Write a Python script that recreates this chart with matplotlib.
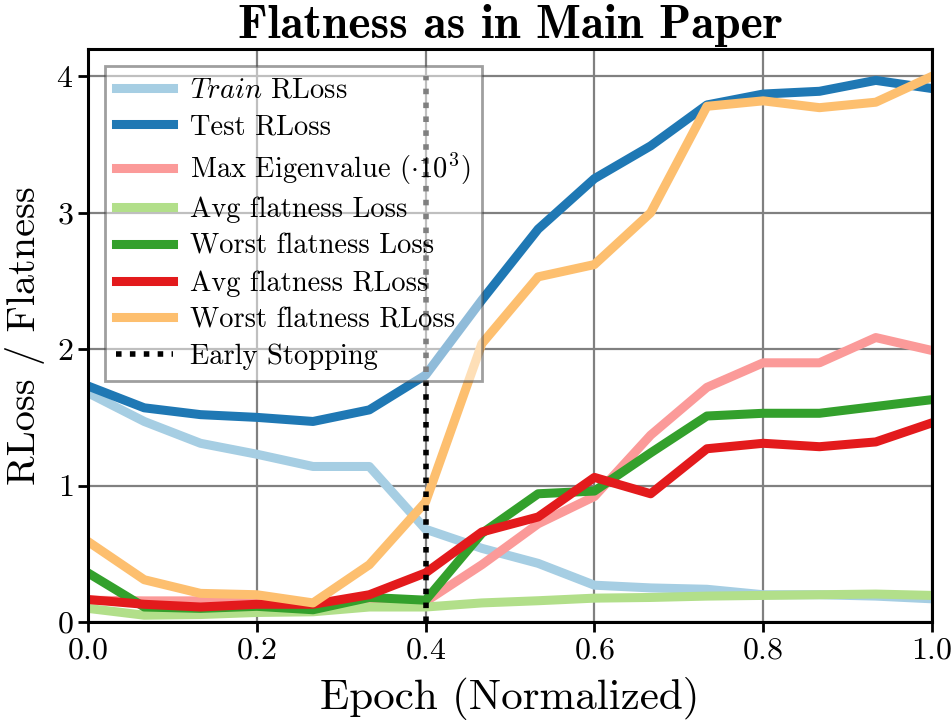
import numpy as np
import matplotlib
matplotlib.use("Agg")
import matplotlib.pyplot as plt

plt.rcParams['font.family'] = 'serif'
plt.rcParams['font.serif'] = ['cmr10']
plt.rcParams['mathtext.fontset'] = 'cm'
plt.rcParams['axes.formatter.use_mathtext'] = True
plt.rcParams['axes.unicode_minus'] = False

epoch = np.linspace(0, 1, 16)
train_rloss = [1.68, 1.47, 1.31, 1.23, 1.14, 1.14, 0.68, 0.54, 0.43, 0.27, 0.25, 0.24, 0.20, 0.20, 0.19, 0.17]
test_rloss = [1.73, 1.57, 1.52, 1.50, 1.47, 1.555, 1.81, 2.36, 2.88, 3.25, 3.49, 3.79, 3.87, 3.89, 3.97, 3.91]
max_eig = [0.16, 0.155, 0.155, 0.15, 0.12, 0.15, 0.15, 0.42, 0.72, 0.92, 1.37, 1.72, 1.90, 1.90, 2.085, 1.99]
avg_flat_loss = [0.10, 0.05, 0.055, 0.07, 0.075, 0.11, 0.11, 0.14, 0.156, 0.175, 0.18, 0.19, 0.195, 0.20, 0.205, 0.195]
worst_flat_loss = [0.36, 0.11, 0.10, 0.115, 0.09, 0.18, 0.16, 0.65, 0.94, 0.96, 1.24, 1.51, 1.53, 1.53, 1.58, 1.63]
avg_flat_rloss = [0.165, 0.13, 0.11, 0.13, 0.13, 0.20, 0.36, 0.66, 0.77, 1.06, 0.94, 1.27, 1.31, 1.285, 1.32, 1.46]
worst_flat_rloss = [0.59, 0.31, 0.21, 0.20, 0.14, 0.42, 0.88, 2.04, 2.53, 2.62, 3.00, 3.78, 3.82, 3.77, 3.81, 4.00]
early_stop = 0.4

labels = [r'$\mathit{Train}$ RLoss', 'Test RLoss', r'Max Eigenvalue $(\cdot 10^3)$',
          'Avg flatness Loss', 'Worst flatness Loss', 'Avg flatness RLoss', 'Worst flatness RLoss']
colors = ['#a6cee3', '#1f78b4', '#fb9a99', '#b2df8a', '#33a02c', '#e31a1c', '#fdbf6f']
series = [train_rloss, test_rloss, max_eig, avg_flat_loss, worst_flat_loss, avg_flat_rloss, worst_flat_rloss]

fig = plt.figure(figsize=(9.53, 7.27), dpi=100)
ax = fig.add_axes([0.0923, 0.1444, 0.978 - 0.0923, 0.9326 - 0.1444])
for s, c, l in zip(series, colors, labels):
    ax.plot(epoch, s, color=c, lw=6.5, label=l)
ymax = max(max(s) for s in series)
ax.plot([early_stop, early_stop], [0, ymax], color='black', lw=4, ls=(0, (1, 1.5)), label='Early Stopping')

ax.set_xlim(0, 1)
ax.set_ylim(bottom=0)
ax.grid(True, color='#808080', lw=1.6)
ax.set_axisbelow(True)
for sp in ax.spines.values():
    sp.set_linewidth(2.2)
ax.tick_params(axis='both', labelsize=23, width=2, length=7, direction='out')
ax.set_xticks([0, 0.2, 0.4, 0.6, 0.8, 1.0])
ax.set_yticks([0, 1, 2, 3, 4])
ax.set_xlabel('Epoch (Normalized)', fontsize=31, labelpad=9)
ax.set_ylabel('RLoss / Flatness', fontsize=29, labelpad=8)
ax.set_title('Flatness as in Main Paper', fontsize=34, fontfamily='cmb10', pad=8)
leg = ax.legend(loc='upper left', fontsize=20.5, fancybox=False, framealpha=0.5,
                edgecolor='#404040', handlelength=2.0, borderaxespad=0.6, labelspacing=0.36,
                handletextpad=0.6)
leg.get_frame().set_linewidth(2)
fig.savefig('out.png', dpi=100)
